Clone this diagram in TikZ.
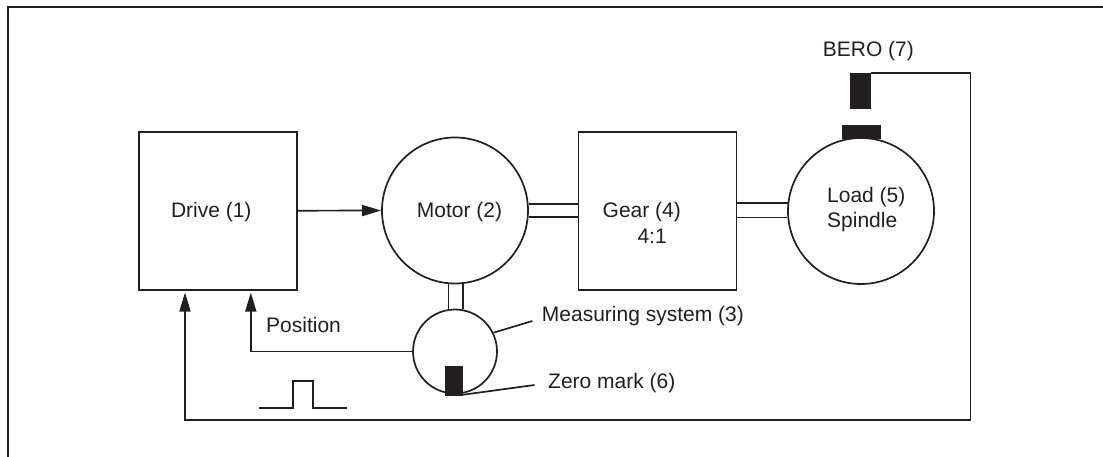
\documentclass[tikz,border=0pt]{standalone}
\usepackage{fontspec}
\setmainfont{Liberation Sans}
\usetikzlibrary{arrows.meta,calc}
\definecolor{ink}{HTML}{231F20}
\begin{document}
\begin{tikzpicture}[x=1pt,y=-1pt,
  ln/.style={draw=ink, line width=1.7pt},
  boxnode/.style={ln, rectangle, minimum width=158pt, minimum height=158pt, inner sep=0pt},
  wheel/.style={ln, circle, inner sep=0pt},
  lbl/.style={font=\fontsize{21}{25}\selectfont, text=ink, inner sep=0pt, anchor=base west},
  blk/.style={fill=ink, draw=none, rectangle, inner sep=0pt},
  arr/.style={-{Triangle[length=19pt,width=11pt]}}
]
\useasboundingbox (0,0) rectangle (1103,457);
% frame
\draw[draw=ink, line width=2pt] (7.5,457) -- (7.5,6.7) -- (1103,6.7);

% main blocks
\node[boxnode] (drive) at (218,210.7) {};
\node[boxnode] (gear) at (657.5,211) {};
\node[wheel, minimum size=146pt] (motor) at (455,210.5) {};
\node[wheel, minimum size=146pt] (load) at (861,211) {};
\node[wheel, minimum size=84pt] (meas) at (455,351.5) {};

% black marks
\node[blk, minimum width=18pt, minimum height=30pt] (zero) at (454,381) {};
\node[blk, minimum width=21pt, minimum height=36pt] (bero) at (860.5,91.4) {};
\node[blk, minimum width=38.5pt, minimum height=14pt] (tab) at (861.3,132) {};

% labels
\node[lbl] (tdrive) at (170.8,217.3) {Drive (1)};
\node[lbl] (tmotor) at (416.7,217.3) {Motor (2)};
\node[lbl] (tgear) at (602.5,217.8) {Gear (4)};
\node[lbl] (tratio) at (637.3,243.5) {4:1};
\node[lbl] (tload) at (827,203) {Load (5)};
\node[lbl] (tspin) at (827,228) {Spindle};
\node[lbl] (tbero) at (822.7,56.7) {BERO (7)};
\node[lbl] (tpos) at (266,332.7) {Position};
\node[lbl] (tmeas) at (541.7,321.7) {Measuring system (3)};
\node[lbl] (tzero) at (548,388.5) {Zero mark (6)};

% shafts
\draw[ln] (motor.5.5) -- (motor.5.5 -| gear.west);
\draw[ln] (motor.-5.5) -- (motor.-5.5 -| gear.west);
\draw[ln] (gear.east |- load.174.5) -- (load.174.5);
\draw[ln] (gear.east |- load.185.5) -- (load.185.5);
\draw[ln] (motor.-84.7) -- (motor.-84.7 |- meas.80.8);
\draw[ln] (motor.-95.3) -- (motor.-95.3 |- meas.99.2);

% signal connectors
\draw[ln, arr] (drive.east) -- (motor.west);
\coordinate (pin) at (250.8,0);
\coordinate (fb) at (185,0);
\coordinate (corner) at (970.5,420);
\draw[ln, arr, shorten >=2pt] (meas.west) -| (pin |- drive.south);
\draw[ln, arr, shorten >=2pt] (bero.north east) -| (corner) -| (fb |- drive.south);

% leaders
\coordinate (msend) at (532.3,321);
\coordinate (zmend) at (534.5,385);
\draw[ln] (meas.26.6) -- (msend);
\draw[ln] ($(zero.south east)+(0,-1.5)$) -- (zmend);

% pulse symbol
\draw[ln] (259,407.7) -- (292.7,407.7) -- (292.7,380.7) -- (312.7,380.7) -- (312.7,407.7) -- (346.7,407.7);
\end{tikzpicture}
\end{document}
